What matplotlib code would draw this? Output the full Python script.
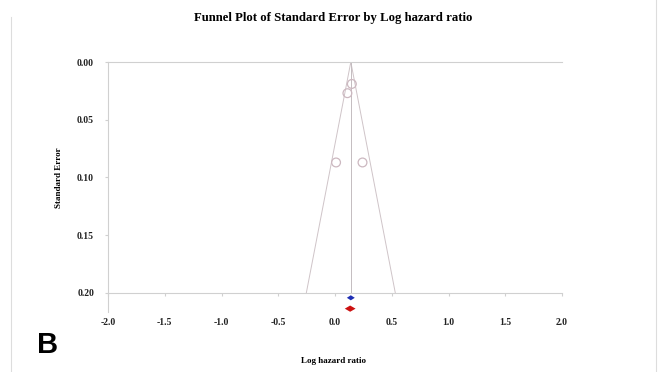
import matplotlib.pyplot as plt
from matplotlib.lines import Line2D

# study estimates (log hazard ratio, standard error)
log_hr = [0.148, 0.109, 0.009, 0.242]
std_err = [0.019, 0.027, 0.087, 0.087]

# pooled estimate
pooled = 0.139
se_max = 0.20

# summary diamonds: centre, lower, upper, row position
diamonds = [
    {"mid": 0.139, "lo": 0.104, "hi": 0.174, "row": 0.2042, "h": 0.0022, "color": "#1f2fb4"},
    {"mid": 0.133, "lo": 0.086, "hi": 0.181, "row": 0.2136, "h": 0.0027, "color": "#cc1111"},
]

xticks = [-2.0, -1.5, -1.0, -0.5, 0.0, 0.5, 1.0, 1.5, 2.0]
yticks = [0.00, 0.05, 0.10, 0.15, 0.20]

serif = ["Liberation Serif", "DejaVu Serif"]

fig = plt.figure(figsize=(6.59, 3.72), dpi=100)
ax = fig.add_axes([0.1639, 0.1613, 0.689, 0.672])

grey = "#d0d0d0"

# funnel and centre line
ax.plot([pooled - 1.96 * se_max, pooled, pooled + 1.96 * se_max], [se_max, 0, se_max],
        color="#cfc4c8", lw=0.7)
ax.plot([pooled, pooled], [0, se_max], color="#c4bcc0", lw=0.7)

ax.scatter(log_hr, std_err, s=40, facecolors="none", edgecolors="#ccb8c0", linewidths=0.9, zorder=3)

for d in diamonds:
    ax.fill([d["lo"], d["mid"], d["hi"], d["mid"]],
            [d["row"], d["row"] - d["h"], d["row"], d["row"] + d["h"]],
            color=d["color"], lw=0, zorder=4)

ax.spines["right"].set_visible(False)
ax.spines["bottom"].set_position(("data", se_max))
for s in ["left", "top", "bottom"]:
    ax.spines[s].set_color(grey)
    ax.spines[s].set_linewidth(0.8)

ax.set_xlim(-2, 2)
ax.set_ylim(0.2165, 0)
ax.set_xticks(xticks)
ax.set_yticks(yticks)
ax.set_xticklabels([f"{t:.1f}" for t in xticks], fontfamily=serif, fontweight="bold", fontsize=7)
ax.set_yticklabels([f"{t:.2f}" for t in yticks], fontfamily=serif, fontweight="bold", fontsize=7)
ax.tick_params(axis="x", colors=grey, labelcolor="#222222", length=2, pad=16)
ax.tick_params(axis="y", colors=grey, labelcolor="#222222", length=2, pad=8)

ax.set_ylabel("Standard Error", fontfamily=serif, fontweight="bold", fontsize=6.5)
ax.yaxis.set_label_coords(-0.099, 0.538)
ax.set_xlabel("Log hazard ratio", fontfamily=serif, fontweight="bold", fontsize=6.5)
ax.xaxis.set_label_coords(0.496, -0.18)

fig.text(333 / 659, 1 - 18 / 372, "Funnel Plot of Standard Error by Log hazard ratio",
         ha="center", va="center", fontfamily=serif, fontweight="bold", fontsize=9.2)
fig.text(48 / 659, 1 - 345 / 372, "B", ha="center", va="center",
         fontfamily=["Liberation Sans", "DejaVu Sans"], fontweight="bold", fontsize=21)

# faint frame of the original panel
fig.add_artist(Line2D([11 / 659, 11 / 659], [0, 1 - 17 / 372], color="#dddddd", lw=0.8))
fig.add_artist(Line2D([656 / 659, 656 / 659], [0, 1], color="#dddddd", lw=0.8))

fig.savefig("out.png", dpi=100)
